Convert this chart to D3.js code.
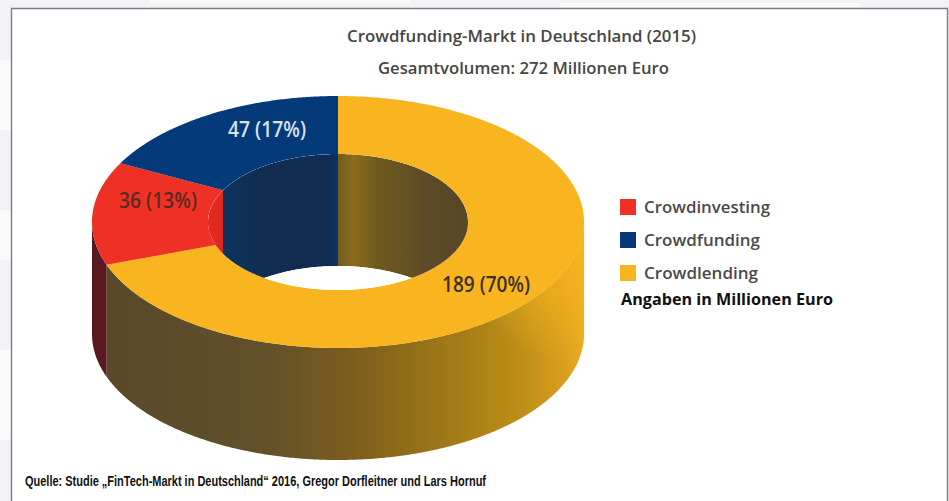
<!DOCTYPE html>
<html lang="de">
<head>
<meta charset="utf-8">
<title>Crowdfunding-Markt in Deutschland (2015)</title>
<script src="https://cdn.jsdelivr.net/npm/d3@7/dist/d3.min.js"></script>
<style>
  html, body { margin: 0; padding: 0; background: #fff; }
  svg { display: block; }
  text { font-family: "Open Sans", "Noto Sans", sans-serif; }
</style>
</head>
<body>
<svg id="chart" width="949" height="501"></svg>
<script>
// Market segments in the clockwise order of the ring, starting at twelve o'clock
const categories = ["Crowdlending", "Crowdinvesting", "Crowdfunding"];
const values = [189, 36, 47];
const percents = [70, 13, 17];
const faceColors = ["#f9b51f", "#ee3124", "#043a7a"];

// Legend reads in a different order from the ring
const legendOrder = ["Crowdinvesting", "Crowdfunding", "Crowdlending"];

const titleLines = ["Crowdfunding-Markt in Deutschland (2015)", "Gesamtvolumen: 272 Millionen Euro"];
const unitNote = "Angaben in Millionen Euro";
const sourceNote = "Quelle: Studie \u201eFinTech-Markt in Deutschland\u201c 2016, Gregor Dorfleitner und Lars Hornuf";

// Ring geometry: a tilted cylinder seen as ellipses
const cx = 338, cy = 222, depth = 112;
const outer = { rx: 246, ry: 126 };
const inner = { rx: 130, ry: 68 };
const TAU = 2 * Math.PI;

const svg = d3.select("#chart");
const defs = svg.append("defs");

function hGradient(id, x0, x1, stops) {
  const g = defs.append("linearGradient").attr("id", id)
    .attr("gradientUnits", "userSpaceOnUse")
    .attr("x1", x0).attr("x2", x1).attr("y1", 0).attr("y2", 0);
  stops.forEach(([o, c]) => g.append("stop").attr("offset", o).attr("stop-color", c));
  return `url(#${id})`;
}

// Point on an ellipse, angle measured clockwise from the top
const onEllipse = (e, a, dy = 0) => [cx + e.rx * Math.sin(a), cy - e.ry * Math.cos(a) + dy];

function sweep(a0, a1) {
  const n = Math.max(2, Math.ceil((a1 - a0) / 0.008));
  return d3.range(n + 1).map(i => a0 + (a1 - a0) * i / n);
}

const line = d3.line();
const ringPath = (a0, a1) => line([
  ...sweep(a0, a1).map(a => onEllipse(outer, a)),
  ...sweep(a0, a1).reverse().map(a => onEllipse(inner, a))
]) + "Z";
const wallPath = (e, a0, a1) => line([
  ...sweep(a0, a1).map(a => onEllipse(e, a)),
  ...sweep(a0, a1).reverse().map(a => onEllipse(e, a, depth))
]) + "Z";
const ellipsePath = (e, dy = 0) => line(sweep(0, TAU).map(a => onEllipse(e, a, dy))) + "Z";

const slices = d3.pie().sort(null).startAngle(0).endAngle(TAU)(values);

// Page backdrop and the thin frame around the chart panel
svg.append("rect").attr("width", 949).attr("height", 501).attr("fill", "#f1f3f6");
svg.append("g").attr("fill", "#f9fafb").selectAll("rect")
  .data([[0, 60, 11, 70], [0, 210, 11, 50], [0, 350, 11, 90], [150, 0, 260, 3], [560, 3, 300, 4]])
  .join("rect")
  .attr("x", d => d[0]).attr("y", d => d[1]).attr("width", d => d[2]).attr("height", d => d[3]);
svg.append("rect").attr("x", 11).attr("y", 8).attr("width", 937).attr("height", 493).attr("fill", "#fff");
svg.append("path").attr("d", "M11.5,501V8.5H947.5V501")
  .attr("fill", "none").attr("stroke", "#7d7d7d").attr("stroke-width", 1.4);

// Outer wall: only the front half of the cylinder is visible
const outerWallFill = [
  hGradient("wallLend", cx - outer.rx, cx + outer.rx, [
    [0, "#57482a"], [0.35, "#62502a"], [0.52, "#7a5c1e"], [0.62, "#8c6a18"],
    [0.75, "#a67c16"], [0.87, "#bd8f18"], [0.95, "#d69b1c"], [1, "#eaaa20"]
  ]),
  "#561a1f",
  "none"
];
const outerWall = d => {
  const a0 = Math.max(d.startAngle, TAU / 4), a1 = Math.min(d.endAngle, 3 * TAU / 4);
  return a1 > a0 ? wallPath(outer, a0, a1) : null;
};
svg.append("g").selectAll("path")
  .data(slices)
  .join("path")
  .attr("d", outerWall)
  .attr("fill", (d, i) => outerWallFill[i]);

// Highlight where the wall turns towards the light, so the right rim melts into the face
const glow = defs.append("radialGradient").attr("id", "rimGlow")
  .attr("gradientUnits", "userSpaceOnUse")
  .attr("cx", cx + outer.rx).attr("cy", cy + 20).attr("r", 125);
glow.append("stop").attr("offset", 0).attr("stop-color", faceColors[0]).attr("stop-opacity", 0.95);
glow.append("stop").attr("offset", 0.55).attr("stop-color", faceColors[0]).attr("stop-opacity", 0.5);
glow.append("stop").attr("offset", 1).attr("stop-color", faceColors[0]).attr("stop-opacity", 0);
svg.append("path").attr("d", outerWall(slices[0])).attr("fill", "url(#rimGlow)");

// Top face of the ring
svg.append("g").selectAll("path")
  .data(slices)
  .join("path")
  .attr("d", d => ringPath(d.startAngle, d.endAngle))
  .attr("fill", (d, i) => faceColors[i]);

// Back half of the inner wall, seen through the hole
defs.append("clipPath").attr("id", "holeClip").append("path").attr("d", ellipsePath(inner));
const hole = svg.append("g").attr("clip-path", "url(#holeClip)");

const innerWallFill = [
  hGradient("innerLend", cx, cx + inner.rx, [
    [0, "#735a1e"], [0.12, "#8b6c1a"], [0.3, "#70591f"], [0.7, "#5c4a28"], [1, "#574627"]
  ]),
  hGradient("innerInvest", cx - inner.rx, cx - inner.rx * 0.7, [[0, "#e62a20"], [1, "#c8211e"]]),
  hGradient("innerFund", cx - inner.rx, cx, [
    [0, "#0c3664"], [0.45, "#112c50"], [0.92, "#102c50"], [1, "#0a3566"]
  ])
];
hole.selectAll("path")
  .data(slices)
  .join("path")
  .attr("d", d => {
    // Wrap the visible back half around the top of the ellipse
    const a0 = d.startAngle < TAU / 4 ? d.startAngle : Math.max(d.startAngle, 3 * TAU / 4);
    const a1 = d.startAngle < TAU / 4 ? Math.min(d.endAngle, TAU / 4) : d.endAngle;
    return wallPath(inner, a0, a1);
  })
  .attr("fill", (d, i) => innerWallFill[i]);

// The opening at the bottom of the hole
hole.append("path").attr("d", ellipsePath(inner, depth)).attr("fill", "#fff");

// Title
svg.append("g").selectAll("text")
  .data(titleLines)
  .join("text")
  .attr("x", (d, i) => [347, 378][i])
  .attr("y", (d, i) => [42, 74][i])
  .attr("textLength", (d, i) => [349, 291][i])
  .attr("lengthAdjust", "spacingAndGlyphs")
  .attr("font-size", 15.5)
  .attr("font-weight", 600)
  .attr("fill", "#454545")
  .text(d => d);

// Value labels on the ring
const labelSpots = [
  { x: 442, y: 292, w: 88, fill: "#3d3018" },
  { x: 119, y: 208, w: 78, fill: "#5a2a20" },
  { x: 228, y: 137, w: 78, fill: "#d9e1ea" }
];
svg.append("g").selectAll("text")
  .data(slices)
  .join("text")
  .attr("x", (d, i) => labelSpots[i].x)
  .attr("y", (d, i) => labelSpots[i].y)
  .attr("textLength", (d, i) => labelSpots[i].w)
  .attr("lengthAdjust", "spacingAndGlyphs")
  .attr("font-size", 21)
  .attr("font-weight", 600)
  .attr("fill", (d, i) => labelSpots[i].fill)
  .text((d, i) => `${d.value} (${percents[i]}%)`);

// Legend
const legendY = d3.scalePoint().domain(legendOrder).range([199, 265]);
const legendWidth = d3.scaleOrdinal().domain(legendOrder).range([126, 116, 114]);
const colorOf = d3.scaleOrdinal().domain(categories).range(faceColors);
const legend = svg.append("g").selectAll("g")
  .data(legendOrder)
  .join("g")
  .attr("transform", d => `translate(0,${legendY(d)})`);
legend.append("rect")
  .attr("x", 620).attr("width", 16).attr("height", 16)
  .attr("fill", d => colorOf(d));
legend.append("text")
  .attr("x", 644).attr("y", 14)
  .attr("textLength", d => legendWidth(d))
  .attr("lengthAdjust", "spacingAndGlyphs")
  .attr("font-size", 16)
  .attr("font-weight", 600)
  .attr("fill", "#4a4a4a")
  .text(d => d);

svg.append("text")
  .attr("x", 621).attr("y", 305)
  .attr("textLength", 212).attr("lengthAdjust", "spacingAndGlyphs")
  .attr("font-size", 16).attr("font-weight", 700).attr("fill", "#111")
  .text(unitNote);

// Source line
svg.append("text")
  .attr("x", 25).attr("y", 486)
  .attr("textLength", 461).attr("lengthAdjust", "spacingAndGlyphs")
  .style("font-family", '"Liberation Sans Narrow", "Liberation Sans", sans-serif')
  .attr("font-size", 14).attr("font-weight", 700).attr("fill", "#111")
  .text(sourceNote);
</script>
</body>
</html>
